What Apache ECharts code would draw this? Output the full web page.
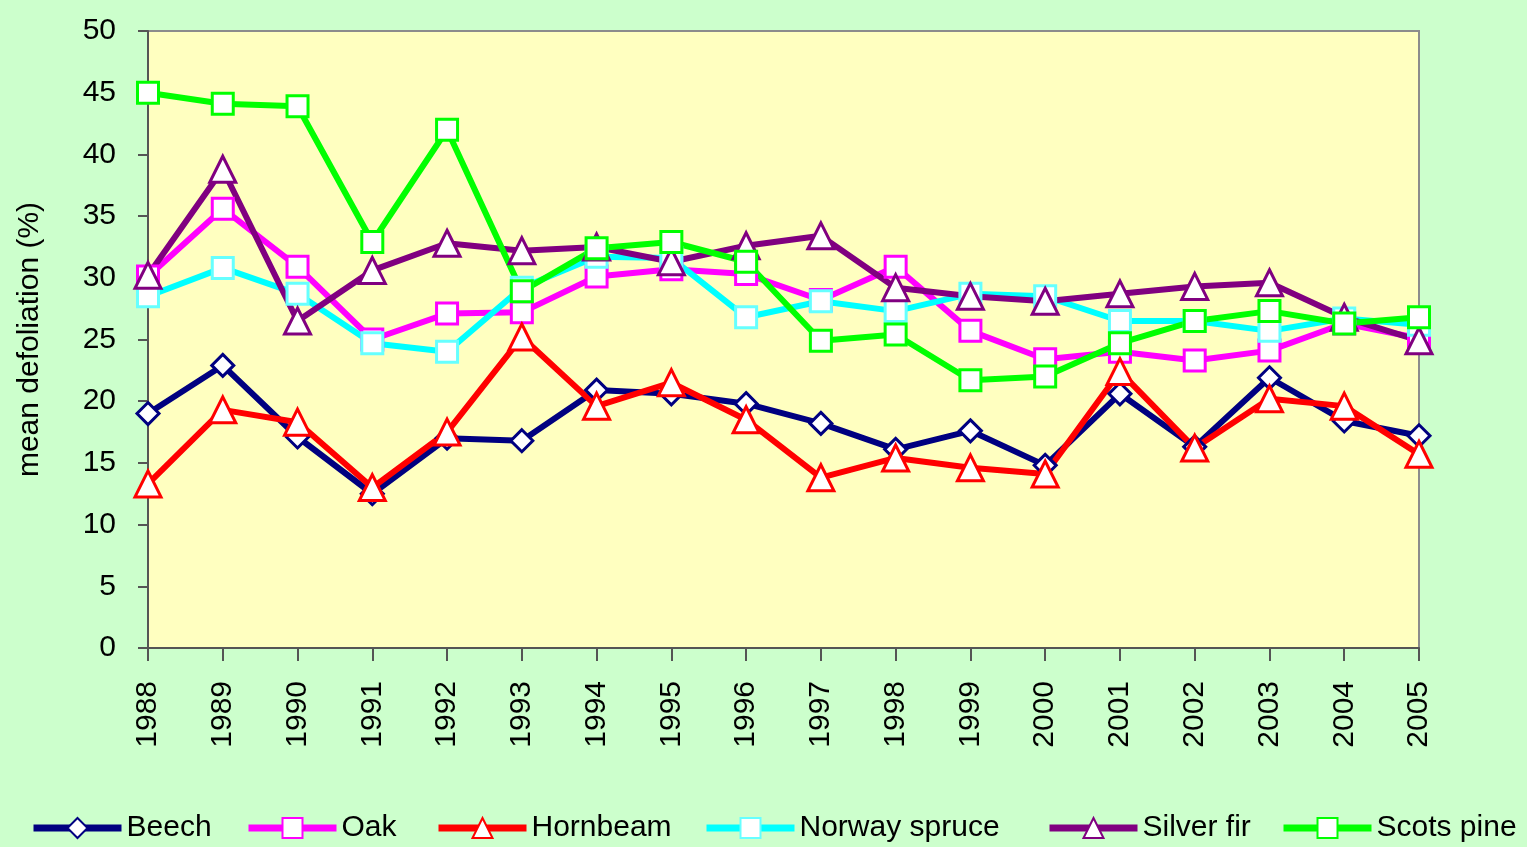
<!DOCTYPE html>
<html>
<head>
<meta charset="utf-8">
<script src="https://cdn.jsdelivr.net/npm/echarts@6/dist/echarts.min.js"></script>
<style>
  html, body { margin: 0; padding: 0; background: #ccffcc; }
  #chart { width: 1527px; height: 847px; }
</style>
</head>
<body>
<div id="chart"></div>
<script>
// years on the x axis
const years = ['1988','1989','1990','1991','1992','1993','1994','1995','1996',
               '1997','1998','1999','2000','2001','2002','2003','2004','2005'];

// mean defoliation (%)
const beech     = [19.0, 22.9, 17.1, 12.5, 17.0, 16.8, 20.9, 20.6, 19.8, 18.2, 16.1, 17.6, 14.8, 20.6, 16.3, 21.9, 18.4, 17.2];
const oak       = [30.1, 35.6, 30.9, 25.0, 27.1, 27.2, 30.1, 30.7, 30.3, 28.2, 30.9, 25.7, 23.4, 24.0, 23.3, 24.1, 26.3, 25.1];
const hornbeam  = [13.3, 19.3, 18.3, 13.0, 17.5, 25.2, 19.6, 21.5, 18.5, 13.8, 15.4, 14.6, 14.1, 22.4, 16.2, 20.2, 19.6, 15.7];
const spruce    = [28.5, 30.8, 28.7, 24.7, 24.0, 29.2, 31.7, 31.6, 26.8, 28.1, 27.3, 28.7, 28.5, 26.5, 26.5, 25.7, 26.7, 26.2];
const silverFir = [30.2, 38.8, 26.5, 30.6, 32.8, 32.2, 32.5, 31.3, 32.6, 33.4, 29.2, 28.5, 28.1, 28.7, 29.3, 29.6, 26.8, 24.9];
const scotsPine = [45.0, 44.1, 43.9, 32.9, 42.0, 28.9, 32.4, 32.9, 31.3, 24.9, 25.4, 21.7, 22.0, 24.7, 26.5, 27.3, 26.3, 26.8];

const yTicks = [0, 5, 10, 15, 20, 25, 30, 35, 40, 45, 50];

const names = ['Beech', 'Oak', 'Hornbeam', 'Norway spruce', 'Silver fir', 'Scots pine'];
// where each legend entry starts
const legendLeft = [30, 245, 435, 703, 1046, 1280];

const font = '"Liberation Sans", Arial, sans-serif';

function line(name, data, color, symbol, size, border) {
  return {
    name: name,
    type: 'line',
    data: data,
    symbol: symbol,
    symbolSize: size,
    showAllSymbol: true,
    lineStyle: { color: color, width: 6 },
    itemStyle: { color: '#ffffff', borderColor: border || color, borderWidth: 3 },
    emphasis: { disabled: true }
  };
}

const legends = names.map((n, i) => ({
  data: [n],
  left: legendLeft[i],
  bottom: 4,
  padding: 0,
  itemWidth: 88,
  itemHeight: 25,
  lineStyle: { width: 7 },
  textStyle: { fontSize: 30, color: '#000', fontFamily: font }
}));

const chart = echarts.init(document.getElementById('chart'));
chart.setOption({
  backgroundColor: '#ccffcc',
  animation: false,
  textStyle: { fontFamily: font },
  grid: {
    left: 148, right: 108, top: 31, bottom: 199,
    show: true,
    backgroundColor: '#ffffc0',
    borderColor: '#8c8c8c',
    borderWidth: 2
  },
  legend: legends,
  xAxis: {
    type: 'category',
    data: years,
    boundaryGap: false,
    axisLine: { lineStyle: { color: '#555', width: 2 } },
    axisTick: { show: true, length: 13, alignWithLabel: true, lineStyle: { color: '#555', width: 2 } },
    axisLabel: { rotate: 90, fontSize: 30, color: '#000', margin: 33, interval: 0 },
    splitLine: { show: false }
  },
  yAxis: {
    type: 'value',
    min: yTicks[0],
    max: yTicks[yTicks.length - 1],
    interval: 5,
    name: 'mean defoliation (%)',
    nameLocation: 'middle',
    nameRotate: 90,
    nameGap: 103,
    nameTextStyle: { fontSize: 30, color: '#000' },
    axisLine: { show: true, lineStyle: { color: '#555', width: 2 } },
    axisTick: { show: true, length: 10, lineStyle: { color: '#555', width: 2 } },
    axisLabel: { fontSize: 30, color: '#000', margin: 32 },
    splitLine: { show: false }
  },
  series: [
    line('Beech', beech, '#000080', 'diamond', 22),
    line('Oak', oak, '#ff00ff', 'rect', 21),
    line('Hornbeam', hornbeam, '#ff0000', 'triangle', 26),
    line('Norway spruce', spruce, '#00ffff', 'rect', 21, '#66ffff'),
    line('Silver fir', silverFir, '#800080', 'triangle', 26),
    line('Scots pine', scotsPine, '#00ff00', 'rect', 21)
  ]
});
</script>
</body>
</html>
